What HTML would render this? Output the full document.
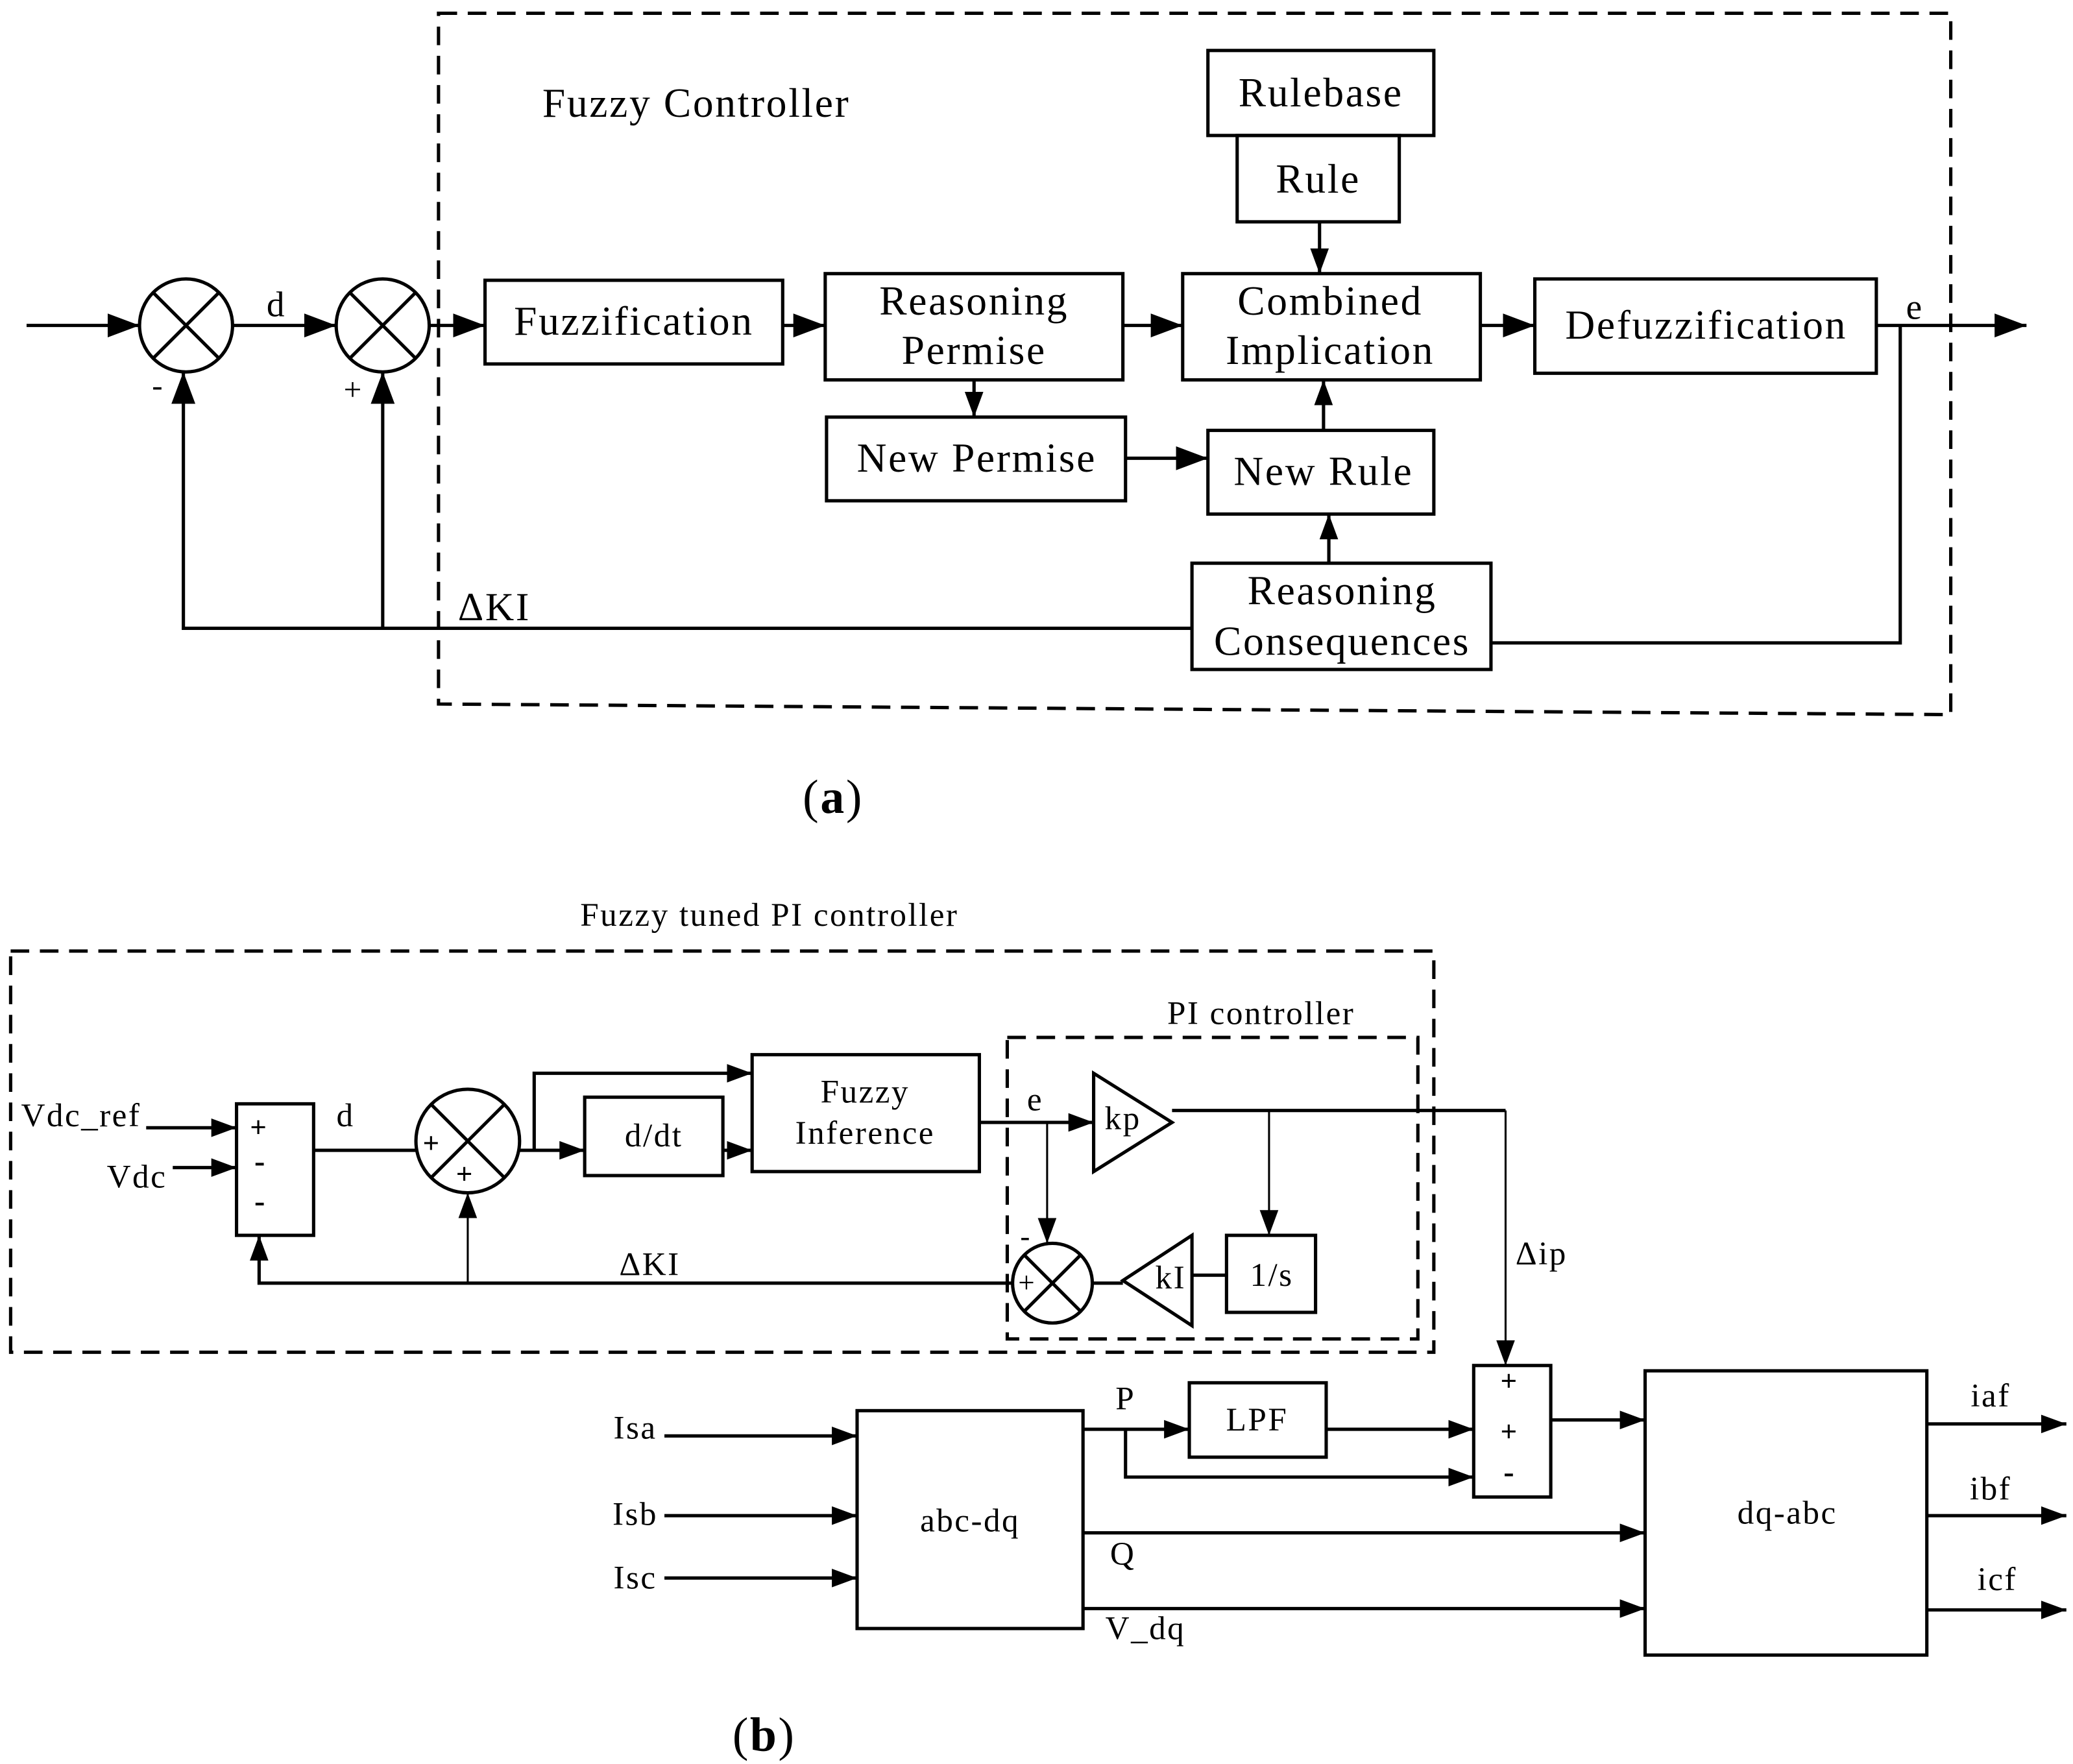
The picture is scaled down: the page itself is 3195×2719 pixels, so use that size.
<!DOCTYPE html>
<html><head><meta charset="utf-8"><style>
html,body{margin:0;padding:0;background:#fff}
svg{display:block}
text{font-family:"Liberation Serif",serif;fill:#000}
</style></head><body>
<svg width="3195" height="2719" viewBox="0 0 1560 1328" preserveAspectRatio="none" xmlns="http://www.w3.org/2000/svg">
<defs>
<marker id="a" markerUnits="userSpaceOnUse" markerWidth="26" markerHeight="18" refX="24" refY="9" orient="auto">
<path d="M0,0 L24,9 L0,18 Z" fill="#000"/></marker>
<marker id="s" markerUnits="userSpaceOnUse" markerWidth="20" markerHeight="14" refX="19" refY="7" orient="auto">
<path d="M0,0 L19,7 L0,14 Z" fill="#000"/></marker>
</defs>
<g fill="none" stroke="#000" stroke-width="2.5">
<polygon points="330,10 1468,10 1468,538 330,530" stroke-dasharray="14,8"/>
<rect x="909" y="38" width="170" height="64"/>
<rect x="931" y="102" width="122" height="65"/>
<rect x="890" y="206" width="224" height="80"/>
<rect x="365" y="211" width="224" height="63"/>
<rect x="621" y="206" width="224" height="80"/>
<rect x="1155" y="210" width="257" height="71"/>
<rect x="622" y="314" width="225" height="63"/>
<rect x="909" y="324" width="170" height="63"/>
<rect x="897" y="424" width="225" height="80"/>
<circle cx="140" cy="245" r="35"/>
<path d="M115,220 L165,270 M165,220 L115,270"/>
<circle cx="288" cy="245" r="35"/>
<path d="M263,220 L313,270 M313,220 L263,270"/>
<line x1="20" y1="245" x2="105" y2="245" marker-end="url(#a)"/>
<line x1="175" y1="245" x2="253" y2="245" marker-end="url(#a)"/>
<line x1="323" y1="245" x2="365" y2="245" marker-end="url(#a)"/>
<line x1="589" y1="245" x2="621" y2="245" marker-end="url(#a)"/>
<line x1="845" y1="245" x2="890" y2="245" marker-end="url(#a)"/>
<line x1="1114" y1="245" x2="1155" y2="245" marker-end="url(#a)"/>
<line x1="1412" y1="245" x2="1525" y2="245" marker-end="url(#a)"/>
<line x1="993" y1="167" x2="993" y2="206" marker-end="url(#s)"/>
<line x1="733" y1="286" x2="733" y2="314" marker-end="url(#s)"/>
<line x1="847" y1="345" x2="909" y2="345" marker-end="url(#a)"/>
<line x1="996" y1="324" x2="996" y2="286" marker-end="url(#s)"/>
<line x1="1000" y1="424" x2="1000" y2="387" marker-end="url(#s)"/>
<polyline points="1430,245 1430,484 1122,484"/>
<polyline points="897,473 138,473 138,280" marker-end="url(#a)"/>
<line x1="288" y1="473" x2="288" y2="280" marker-end="url(#a)"/>
<rect x="8" y="716" width="1071" height="302" stroke-dasharray="14,8"/>
<rect x="758" y="781" width="309" height="227" stroke-dasharray="14,8"/>
<rect x="178" y="831" width="58" height="99"/>
<circle cx="352" cy="859" r="39"/>
<path d="M325,832 L379,886 M379,832 L325,886"/>
<rect x="440" y="826" width="104" height="59"/>
<rect x="566" y="794" width="171" height="88"/>
<polygon points="823,808 823,882 882,845"/>
<rect x="923" y="930" width="67" height="58"/>
<polygon points="897,930 897,998 845,964"/>
<circle cx="792" cy="966" r="30"/>
<path d="M771,945 L813,987 M813,945 L771,987"/>
<line x1="110" y1="849" x2="178" y2="849" marker-end="url(#s)"/>
<line x1="130" y1="879" x2="178" y2="879" marker-end="url(#s)"/>
<line x1="236" y1="866" x2="313" y2="866"/>
<line x1="391" y1="866" x2="440" y2="866" marker-end="url(#s)"/>
<polyline points="402,866 402,808 566,808" marker-end="url(#s)"/>
<line x1="544" y1="866" x2="566" y2="866" marker-end="url(#s)"/>
<line x1="737" y1="845" x2="823" y2="845" marker-end="url(#s)"/>
<line x1="788" y1="845" x2="788" y2="936" stroke-width="1.5" marker-end="url(#s)"/>
<line x1="882" y1="836" x2="1133" y2="836"/>
<line x1="955" y1="836" x2="955" y2="930" stroke-width="1.5" marker-end="url(#s)"/>
<line x1="897" y1="960" x2="923" y2="960"/>
<line x1="845" y1="966" x2="822" y2="966"/>
<polyline points="762,966 195,966 195,930" marker-end="url(#s)"/>
<line x1="352" y1="966" x2="352" y2="898" stroke-width="1.5" marker-end="url(#s)"/>
<line x1="1133" y1="836" x2="1133" y2="1028" stroke-width="1.5" marker-end="url(#s)"/>
<rect x="1109" y="1028" width="58" height="99"/>
<rect x="645" y="1062" width="170" height="164"/>
<rect x="895" y="1041" width="103" height="56"/>
<rect x="1238" y="1032" width="212" height="214"/>
<line x1="500" y1="1081" x2="645" y2="1081" marker-end="url(#s)"/>
<line x1="500" y1="1141" x2="645" y2="1141" marker-end="url(#s)"/>
<line x1="500" y1="1188" x2="645" y2="1188" marker-end="url(#s)"/>
<line x1="815" y1="1076" x2="895" y2="1076" marker-end="url(#s)"/>
<line x1="998" y1="1076" x2="1109" y2="1076" marker-end="url(#s)"/>
<polyline points="847,1076 847,1112 1109,1112" marker-end="url(#s)"/>
<line x1="1167" y1="1069" x2="1238" y2="1069" marker-end="url(#s)"/>
<line x1="815" y1="1154" x2="1238" y2="1154" marker-end="url(#s)"/>
<line x1="815" y1="1211" x2="1238" y2="1211" marker-end="url(#s)"/>
<line x1="1450" y1="1072" x2="1555" y2="1072" marker-end="url(#s)"/>
<line x1="1450" y1="1141" x2="1555" y2="1141" marker-end="url(#s)"/>
<line x1="1450" y1="1212" x2="1555" y2="1212" marker-end="url(#s)"/>
</g>
<g font-size="31" text-anchor="middle" letter-spacing="1.3">
<text x="524" y="88">Fuzzy Controller</text>
<text x="994" y="80">Rulebase</text>
<text x="992" y="145">Rule</text>
<text x="1001" y="237">Combined</text>
<text x="1001" y="274">Implication</text>
<text x="477" y="252">Fuzzification</text>
<text x="733" y="237">Reasoning</text>
<text x="733" y="274">Permise</text>
<text x="1284" y="255">Defuzzification</text>
<text x="735" y="355">New Permise</text>
<text x="996" y="365">New Rule</text>
<text x="1010" y="455">Reasoning</text>
<text x="1010" y="493">Consequences</text>
<text x="208" y="238" font-size="27">d</text>
<text x="1441" y="240" font-size="27">e</text>
<text x="119" y="298" font-size="24">-</text>
<text x="266" y="301" font-size="24">+</text>
<text x="372" y="467" font-size="30">ΔKI</text>
<text x="627" y="612" font-size="36">(<tspan font-weight="bold">a</tspan>)</text>
</g>
<g font-size="25" text-anchor="middle" letter-spacing="1.2">
<text x="579" y="697">Fuzzy tuned PI controller</text>
<text x="949" y="771">PI controller</text>
<text x="61" y="848">Vdc_ref</text>
<text x="103" y="894">Vdc</text>
<text x="195" y="856" font-size="22" font-weight="bold">+</text>
<text x="196" y="882" font-size="24" font-weight="bold">-</text>
<text x="196" y="912" font-size="24" font-weight="bold">-</text>
<text x="260" y="848">d</text>
<text x="325" y="868" font-size="22" font-weight="bold">+</text>
<text x="350" y="891" font-size="22" font-weight="bold">+</text>
<text x="492" y="863">d/dt</text>
<text x="651" y="830">Fuzzy</text>
<text x="651" y="861">Inference</text>
<text x="779" y="836">e</text>
<text x="845" y="850">kp</text>
<text x="881" y="970">kI</text>
<text x="957" y="968">1/s</text>
<text x="772" y="938" font-size="22">-</text>
<text x="773" y="973" font-size="22">+</text>
<text x="489" y="960">ΔKI</text>
<text x="1160" y="952">Δip</text>
<text x="1136" y="1047" font-size="22" font-weight="bold">+</text>
<text x="1136" y="1085" font-size="22" font-weight="bold">+</text>
<text x="1136" y="1116" font-size="24" font-weight="bold">-</text>
<text x="478" y="1083">Isa</text>
<text x="478" y="1148">Isb</text>
<text x="478" y="1196">Isc</text>
<text x="730" y="1153">abc-dq</text>
<text x="847" y="1061">P</text>
<text x="946" y="1077">LPF</text>
<text x="845" y="1178">Q</text>
<text x="862" y="1234">V_dq</text>
<text x="1345" y="1147">dq-abc</text>
<text x="1498" y="1059">iaf</text>
<text x="1498" y="1129">ibf</text>
<text x="1503" y="1197">icf</text>
<text x="575" y="1318" font-size="36">(<tspan font-weight="bold">b</tspan>)</text>
</g>
</svg>
</body></html>
